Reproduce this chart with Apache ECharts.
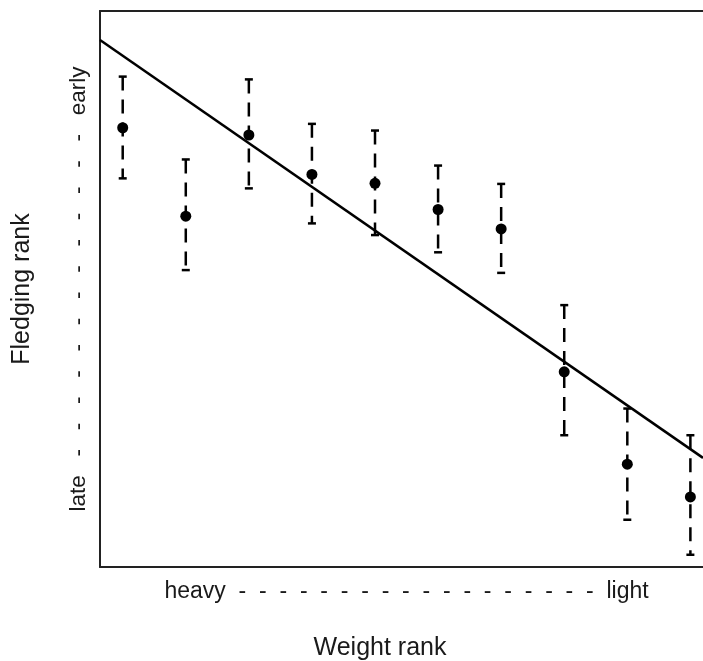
<!DOCTYPE html>
<html>
<head>
<meta charset="utf-8">
<script src="https://cdn.jsdelivr.net/npm/echarts@6/dist/echarts.min.js"></script>
<style>
html,body{margin:0;padding:0;background:#fff;}
#chart{width:703px;height:661px;}
</style>
</head>
<body>
<div id="chart"></div>
<script>
// Data
const weightRank   = [1, 2, 3, 4, 5, 6, 7, 8, 9, 10];
const fledgeMean   = [7.90, 6.31, 7.77, 7.06, 6.90, 6.43, 6.08, 3.51, 1.85, 1.26];
const fledgeUpper  = [8.82, 7.33, 8.77, 7.97, 7.85, 7.22, 6.89, 4.71, 2.85, 2.37];
const fledgeLower  = [6.99, 5.34, 6.81, 6.18, 5.97, 5.66, 5.29, 2.37, 0.85, 0.22];
const fitIntercept = 9.98;
const fitSlope     = -0.786;
const xLabelText   = "heavy" + "  -".repeat(18) + "  light";
const yLabelText   = "late" + "   -".repeat(13) + "   early";
const xTitle = "Weight rank";
const yTitle = "Fledging rank";

// the reference is cropped on the right: the visible x range ends near 10.2
const xMin = 0.64, xMax = 10.2, yMin = 0, yMax = 10;
const font = "'Liberation Sans', Arial, sans-serif";
const ink = '#1a1a1a';
const frame = {show: true, lineStyle: {color: '#222', width: 2}};

const errData = weightRank.map((x, i) => [x, fledgeLower[i], fledgeUpper[i]]);
const ptData = weightRank.map((x, i) => [x, fledgeMean[i]]);
const fitData = [[xMin, fitIntercept + fitSlope * xMin], [xMax, fitIntercept + fitSlope * xMax]];

const chart = echarts.init(document.getElementById('chart'), null, {renderer: 'canvas'});
chart.setOption({
  backgroundColor: '#fff',
  animation: false,
  grid: {left: 100, top: 11, right: 0, bottom: 94, show: false, containLabel: false},
  xAxis: [{
    type: 'value', min: xMin, max: xMax, position: 'bottom',
    axisLine: frame, axisTick: {show: false}, splitLine: {show: false},
    axisLabel: {customValues: [5.5], margin: 13, formatter: () => xLabelText,
                color: ink, fontFamily: font, fontSize: 23}
  }, {
    type: 'value', min: xMin, max: xMax, position: 'top',
    axisLine: frame, axisTick: {show: false}, splitLine: {show: false},
    axisLabel: {show: false}
  }],
  yAxis: {
    type: 'value', min: yMin, max: yMax, position: 'left',
    axisLine: frame, axisTick: {show: false}, splitLine: {show: false},
    axisLabel: {customValues: [5], rotate: 90, margin: 10, formatter: () => yLabelText,
                color: ink, fontFamily: font, fontSize: 22.5},
    name: yTitle, nameLocation: 'middle', nameGap: 65,
    nameTextStyle: {color: ink, fontFamily: font, fontSize: 25}
  },
  graphic: [{
    type: 'text', x: 380, y: 648,
    style: {text: xTitle, fill: ink, font: "25px 'Liberation Sans', Arial, sans-serif",
            textAlign: 'center', textVerticalAlign: 'middle'}
  }],
  series: [
    {
      type: 'line', data: fitData, symbol: 'none',
      lineStyle: {color: '#000', width: 2.5}, z: 3
    },
    {
      type: 'custom', data: errData, z: 4,
      renderItem: function (params, api) {
        const x = api.value(0);
        const lo = api.coord([x, api.value(1)]);
        const hi = api.coord([x, api.value(2)]);
        const cap = 4;
        return {
          type: 'group',
          children: [
            {type: 'line', shape: {x1: hi[0], y1: hi[1], x2: lo[0], y2: lo[1]},
             style: {stroke: '#000', lineWidth: 2.5, lineDash: [14, 9]}},
            {type: 'line', shape: {x1: hi[0] - cap, y1: hi[1], x2: hi[0] + cap, y2: hi[1]},
             style: {stroke: '#000', lineWidth: 2.5}},
            {type: 'line', shape: {x1: lo[0] - cap, y1: lo[1], x2: lo[0] + cap, y2: lo[1]},
             style: {stroke: '#000', lineWidth: 2.5}}
          ]
        };
      }
    },
    {
      type: 'scatter', data: ptData, symbol: 'circle', symbolSize: 11,
      itemStyle: {color: '#000', opacity: 1}, z: 5
    }
  ]
});
</script>
</body>
</html>
